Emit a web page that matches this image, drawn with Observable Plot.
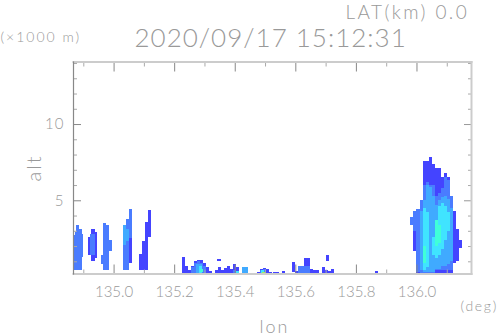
<!DOCTYPE html>
<html><head><meta charset="utf-8">
<script src="https://cdn.jsdelivr.net/npm/d3@7"></script>
<script src="https://cdn.jsdelivr.net/npm/@observablehq/plot@0.6"></script>
<style>html,body{margin:0;padding:0;background:#fff}svg{display:block}
.s1 text{letter-spacing:1px}.s15 text{letter-spacing:1.7px}.s2 text{letter-spacing:2px}.s25 text{letter-spacing:2.4px}
</style>
</head><body><div id="c"></div>
<script>
// Each cell: [lon, base alt, top alt] in (deg, x1000 m); cell width 0.01 deg
const dark = [
 [134.917,1.4,2.6],[134.927,1.0,3.1],[134.935,1.2,2.9],
 [135.052,0.9,2.5],
 [135.085,0.4,1.5],[135.095,0.4,2.3],[135.105,0.4,3.6],[135.115,2.6,4.35],
 [135.226,0.2,1.3],[135.236,0.2,0.7],[135.246,0.2,0.4],[135.256,0.2,0.7],[135.266,0.2,1.0],[135.276,0.2,1.1],[135.285,0.2,1.1],[135.295,0.2,0.9],[135.305,0.2,0.6],[135.315,0.2,0.35],
 [135.335,0.2,0.4],[135.345,0.2,0.6],[135.343,1.0,1.15],[135.355,0.2,0.45],[135.365,0.2,0.55],[135.375,0.2,0.7],[135.385,0.2,0.5],[135.395,0.2,0.8],[135.405,0.2,0.65],
 [135.474,0.2,0.3],[135.483,0.2,0.5],[135.493,0.2,0.55],[135.503,0.2,0.5],[135.513,0.2,0.3],
 [135.527,0.2,0.3],[135.537,0.2,0.3],[135.556,0.2,0.35],
 [135.589,0.3,0.95],[135.599,0.2,0.35],[135.629,0.2,1.2],[135.639,0.2,1.2],[135.649,0.2,0.5],[135.659,0.2,0.4],[135.668,0.2,0.4],
 [135.688,0.2,0.65],[135.698,0.2,0.4],[135.708,0.2,0.35],[135.718,0.2,0.5],[135.702,1.05,1.4],[135.862,0.2,0.35],
 [135.99,1.7,3.0],[136.00,0.2,4.4],[136.01,0.2,5.0],[136.02,0.2,7.6],[136.03,0.2,7.6],[136.04,0.2,7.85],[136.05,0.2,7.4],[136.06,0.2,7.1],[136.07,0.2,7.1],[136.08,0.2,6.5],[136.09,0.2,6.8],[136.10,0.2,6.5],[136.11,0.2,5.3],[136.12,0.9,4.3],[136.13,1.0,3.1],[136.14,1.9,2.4]
];
const medium = [
 [134.864,0.4,2.7],[134.873,0.4,2.9],[134.877,0.4,3.4],[134.885,0.4,3.1],[134.89,1.3,2.8],
 [134.922,1.4,2.8],[134.93,1.4,2.8],
 [134.958,0.8,1.4],[134.965,0.4,3.5],[134.975,0.4,3.4],[134.985,1.7,2.4],
 [135.032,0.4,3.4],[135.042,0.4,3.8],[135.052,2.5,4.4],
 [135.256,0.2,0.6],[135.266,0.2,0.9],[135.276,0.2,1.0],[135.285,0.2,0.9],[135.295,0.2,0.7],
 [135.395,0.2,0.45],[135.483,0.2,0.45],[135.493,0.2,0.5],
 [135.609,0.2,0.66],[135.619,0.2,0.66],[135.629,0.2,0.66],[135.639,0.2,0.66],
 [135.98,3.4,3.9],[135.99,3.0,4.3],[136.00,0.3,4.4],[136.01,0.2,5.0],[136.02,0.2,6.0],[136.03,0.2,6.2],[136.04,0.2,6.0],[136.05,0.2,6.0],[136.06,0.4,5.3],[136.07,0.4,5.5],[136.08,0.4,5.8],[136.09,0.4,6.5],[136.10,0.4,6.3],[136.11,0.4,5.3]
];
const sky = [
 [135.032,2.1,3.4],[135.042,2.3,3.1],
 [135.272,0.2,0.8],[135.282,0.2,0.8],
 [135.424,0.2,0.65],[135.434,0.2,0.65],
 [136.01,0.4,4.3],[136.02,0.3,5.0],[136.03,0.3,6.0],[136.04,0.3,5.9],[136.05,0.3,5.3],[136.06,0.5,4.7],[136.07,0.5,5.0],[136.08,0.7,5.2],[136.09,0.7,5.3],[136.10,0.8,5.1],[136.11,1.0,4.5]
];
const cyan = [
 [135.282,0.25,0.7],[135.405,0.2,0.35],[135.488,0.2,0.4],[135.532,0.2,0.25],
 [136.02,0.4,4.5],[136.03,0.6,4.2],[136.05,1.4,2.6],[136.06,1.2,3.7],[136.07,1.4,4.6],[136.08,1.8,4.8],[136.09,2.4,4.6],[136.10,3.0,4.2]
];
const aqua = [
 [135.285,0.3,0.5],[136.02,0.9,2.0],[136.06,2.0,3.7],[136.07,2.2,3.4]
];
const green = [[135.49,0.2,0.3]];
const layers = [
 [dark,"#4444ff"],[medium,"#4a7cff"],[sky,"#40aaff"],[cyan,"#40e4ff"],[aqua,"#40ffd8"],[green,"#a0f060"]
];
const lonMajor = [135.0,135.2,135.4,135.6,135.8,136.0];
const lonMinor = [134.9,135.1,135.3,135.5,135.7,135.9,136.1];
const altMajor = [5,10];
const altMinor = [1,2,3,4,6,7,8,9,11,12,13,14];
const grey = "#999";
const font = "Lato";

const cellMarks = layers.map(([rows,color]) => Plot.rect(rows,{
  x1:d=>d[0], x2:d=>d[0]+0.0101, y1:d=>d[1], y2:d=>d[2], fill:color, clip:true, shapeRendering:"crispEdges"
}));
const label = (s,dx,dy,size,cls,anchor="start",rotate=0) => Plot.text([s],{
  frameAnchor:"top-left", dx, dy, text:d=>d, fontSize:size, fontWeight:300, fill:grey, textAnchor:anchor, rotate, lineAnchor:"middle", className:cls
});

const chart = Plot.plot({
  width:498, height:336,
  marginLeft:73, marginRight:27, marginTop:61.5, marginBottom:62.5,
  x:{domain:[134.866,136.18]},
  y:{domain:[0.2,14.1]},
  style:{fontFamily:font, background:"#fff"},
  marks:[
    ...cellMarks,
    Plot.axisX({anchor:"bottom",ticks:lonMajor,tickSize:-9,tickFormat:d=>d.toFixed(1),tickPadding:21,fontSize:15,fontWeight:300,stroke:"#888",color:grey,label:null,tickRotate:0}),
    Plot.axisX({anchor:"bottom",ticks:lonMinor,tickSize:-4,text:null,stroke:"#aaa",label:null}),
    Plot.axisX({anchor:"top",ticks:lonMajor,tickSize:-9,text:null,stroke:"#888",label:null}),
    Plot.axisX({anchor:"top",ticks:lonMinor,tickSize:-4,text:null,stroke:"#aaa",label:null}),
    Plot.axisY({anchor:"left",ticks:altMajor,tickSize:-8,tickPadding:17,fontSize:15,fontWeight:300,stroke:"#888",color:grey,label:null,className:"s1"}),
    Plot.axisY({anchor:"left",ticks:altMinor,tickSize:-4,text:null,stroke:"#aaa",label:null}),
    Plot.axisY({anchor:"right",ticks:altMajor,tickSize:-8,text:null,stroke:"#999",label:null}),
    Plot.axisY({anchor:"right",ticks:altMinor,tickSize:-4,text:null,stroke:"#aaa",label:null}),
    Plot.frame({anchor:"top",stroke:"#ccc",strokeWidth:2}),
    Plot.frame({anchor:"bottom",stroke:"#ccc",strokeWidth:2}),
    Plot.frame({anchor:"right",stroke:"#ccc",strokeWidth:2}),
    Plot.frame({anchor:"left",stroke:"#888",strokeWidth:1.2}),
    label("LAT(km) 0.0",272,-49,19,"s25"),
    label("(×1000 m)",-73,-24,14,"s2"),
    label("2020/09/17 15:12:31",61,-23,26,"s1"),
    label("(deg)",387,245,14,"s15"),
    label("lon",186,265,18,"s2"),
    label("alt",-39,106,20,"s2","middle",-90)
  ]
});
document.getElementById("c").append(chart);
</script></body></html>
